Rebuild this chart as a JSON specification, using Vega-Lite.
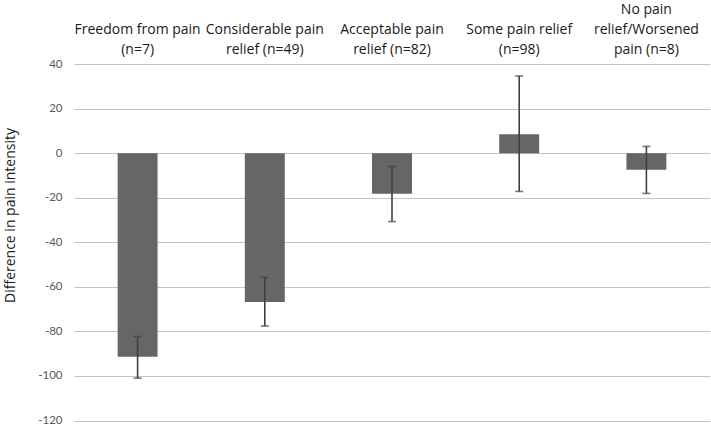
{
  "$schema": "https://vega.github.io/schema/vega-lite/v6.json",
  "autosize": "none",
  "width": 636,
  "height": 356.5,
  "padding": {"left": 74, "top": 64, "right": 1, "bottom": 5.5},
  "background": "white",
  "config": {"view": {"stroke": null}},
  "data": {
    "values": [
      {"cat": " |Freedom from pain|(n=7)", "mean": -91.4, "lo": -101.0, "hi": -82.3},
      {"cat": " |Considerable pain|relief (n=49)", "mean": -66.8, "lo": -77.6, "hi": -55.8},
      {"cat": " |Acceptable pain|relief (n=82)", "mean": -18.2, "lo": -30.7, "hi": -6.0},
      {"cat": " |Some pain relief|(n=98)", "mean": 8.5, "lo": -17.2, "hi": 34.6},
      {"cat": "No pain|relief/Worsened|pain (n=8)", "mean": -7.5, "lo": -18.1, "hi": 3.0}
    ]
  },
  "encoding": {
    "x": {
      "field": "cat",
      "type": "nominal",
      "sort": null,
      "scale": {"paddingInner": 0.686, "paddingOuter": 0.343},
      "axis": {
        "orient": "top",
        "title": null,
        "domain": false,
        "ticks": false,
        "labelAngle": 0,
        "labelBaseline": "alphabetic",
        "labelPadding": 51,
        "labelFont": "Open Sans",
        "labelFontSize": 14,
        "labelColor": "#1a1a1a",
        "labelLineHeight": 20,
        "labelLimit": 200,
        "labelExpr": "split(datum.label, '|')"
      }
    }
  },
  "layer": [
    {
      "mark": {"type": "bar", "color": "#666666"},
      "encoding": {
        "y": {
          "field": "mean",
          "type": "quantitative",
          "scale": {"domain": [-120, 40], "nice": false},
          "axis": {
            "title": "Difference in pain intensity",
            "titleFont": "Open Sans",
            "titleFontSize": 14,
            "titleFontWeight": "normal",
            "titleColor": "#1a1a1a",
            "titleX": -64,
            "titleY": 151,
            "titleAngle": -90,
            "titleAlign": "center",
            "titleBaseline": "middle",
            "values": [-120, -100, -80, -60, -40, -20, 0, 20, 40],
            "labelExpr": "toString(datum.value)",
            "grid": true,
            "gridColor": "#c4c4c4",
            "gridWidth": 1.2,
            "domain": false,
            "ticks": false,
            "labelPadding": 12,
            "labelFont": "Lato",
            "labelFontSize": 11.5,
            "labelColor": "#595959"
          }
        }
      }
    },
    {
      "mark": {"type": "rule", "color": "#404040", "strokeWidth": 1.6},
      "encoding": {
        "y": {"field": "lo", "type": "quantitative"},
        "y2": {"field": "hi"}
      }
    },
    {
      "mark": {"type": "tick", "color": "#404040", "size": 8, "thickness": 1.6},
      "encoding": {"y": {"field": "lo", "type": "quantitative"}}
    },
    {
      "mark": {"type": "tick", "color": "#404040", "size": 8, "thickness": 1.6},
      "encoding": {"y": {"field": "hi", "type": "quantitative"}}
    }
  ]
}
